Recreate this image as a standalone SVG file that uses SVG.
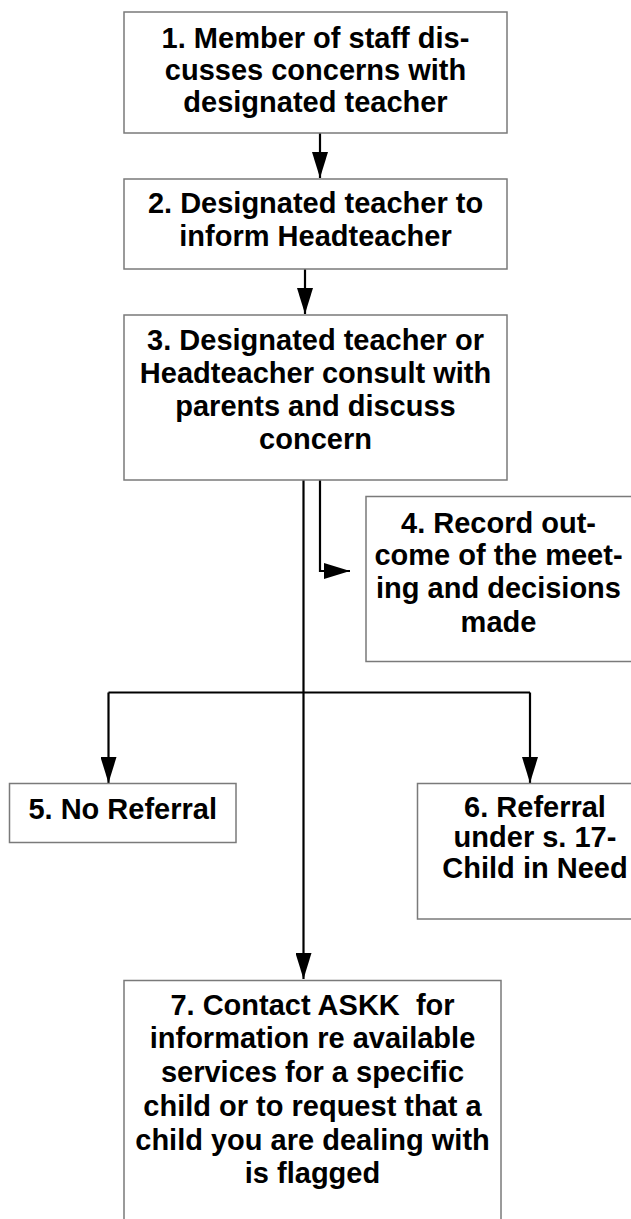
<svg xmlns="http://www.w3.org/2000/svg" width="631" height="1219" viewBox="0 0 631 1219">
<defs>
<style>
.box{fill:#fff;stroke:#7a7a7a;stroke-width:1.5}
.t{font-family:"Liberation Sans",Arial,sans-serif;font-weight:bold;font-size:29px;fill:#000;text-anchor:middle;white-space:pre}
.c{fill:none;stroke:#000;stroke-width:2.2}
</style>
<marker id="ah" markerUnits="userSpaceOnUse" markerWidth="27" markerHeight="16" refX="26" refY="8" orient="auto" viewBox="0 0 27 16">
<path d="M0,0 L26,8 L0,16 z" fill="#000"/>
</marker>
</defs>
<rect width="631" height="1219" fill="#fff"/>
<g id="connectors">
<path class="c" d="M320,133 V178" marker-end="url(#ah)"/>
<path class="c" d="M305,269 V314" marker-end="url(#ah)"/>
<path class="c" d="M320,480 V571 H350" marker-end="url(#ah)"/>
<path class="c" d="M303.5,480 V979" marker-end="url(#ah)"/>
<path class="c" d="M108.5,692.5 H530"/>
<path class="c" d="M108.5,692.5 V783" marker-end="url(#ah)"/>
<path class="c" d="M530,692.5 V783" marker-end="url(#ah)"/>
</g>
<g id="node1">
<rect class="box" x="124" y="12" width="383" height="121"/>
<text class="t" x="315.5" y="48">1. Member of staff dis-</text>
<text class="t" x="315.5" y="80">cusses concerns with</text>
<text class="t" x="315.5" y="112">designated teacher</text>
</g>
<g id="node2">
<rect class="box" x="124" y="179" width="383" height="90"/>
<text class="t" x="315.5" y="213">2. Designated teacher to</text>
<text class="t" x="315.5" y="246">inform Headteacher</text>
</g>
<g id="node3">
<rect class="box" x="124" y="315" width="383" height="165"/>
<text class="t" x="315.5" y="350">3. Designated teacher or</text>
<text class="t" x="315.5" y="383">Headteacher consult with</text>
<text class="t" x="315.5" y="416">parents and discuss</text>
<text class="t" x="315.5" y="449">concern</text>
</g>
<g id="node4">
<rect class="box" x="366" y="496.5" width="280" height="165"/>
<text class="t" x="498.5" y="533">4. Record out-</text>
<text class="t" x="498.5" y="565">come of the meet-</text>
<text class="t" x="498.5" y="598">ing and decisions</text>
<text class="t" x="498.5" y="632">made</text>
</g>
<g id="node5">
<rect class="box" x="9.5" y="783.5" width="226.5" height="59"/>
<text class="t" x="122.7" y="819">5. No Referral</text>
</g>
<g id="node6">
<rect class="box" x="417.5" y="783.5" width="240" height="135.5"/>
<text class="t" x="535" y="817">6. Referral</text>
<text class="t" x="535" y="847">under s. 17-</text>
<text class="t" x="535" y="878">Child in Need</text>
</g>
<g id="node7">
<rect class="box" x="124" y="980.5" width="377" height="260"/>
<text class="t" x="312.5" y="1015">7. Contact ASKK  for</text>
<text class="t" x="312.5" y="1048">information re available</text>
<text class="t" x="312.5" y="1082">services for a specific</text>
<text class="t" x="312.5" y="1116">child or to request that a</text>
<text class="t" x="312.5" y="1150">child you are dealing with</text>
<text class="t" x="312.5" y="1183">is flagged</text>
</g>
</svg>
